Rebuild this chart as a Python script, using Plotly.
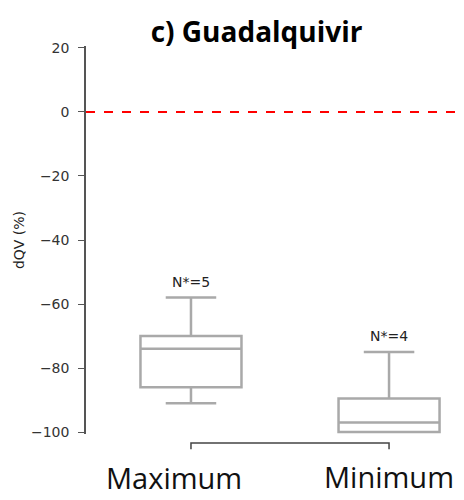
import plotly.graph_objects as go

categories = ["Maximum", "Minimum"]
q1 = [-86, -100]
median = [-74, -97]
q3 = [-70, -89.5]
lower = [-91, -100]
upper = [-58, -75]
n_labels = ["N*=5", "N*=4"]
title = "c) Guadalquivir"
y_ticks = [20, 0, -20, -40, -60, -80, -100]

fig = go.Figure()
for i, c in enumerate(categories):
    fig.add_trace(go.Box(
        x=[i], q1=[q1[i]], median=[median[i]], q3=[q3[i]],
        lowerfence=[lower[i]], upperfence=[upper[i]],
        width=0.51, whiskerwidth=0.5,
        line=dict(color="#a9a9a9", width=2.5),
        fillcolor="rgba(255,255,255,0)", showlegend=False,
        hoverinfo="skip"))
    fig.add_annotation(x=i, y=upper[i], text=n_labels[i], showarrow=False,
                       yshift=16, font=dict(size=14, color="#222", family="DejaVu Sans"))

# category labels
label_dx = [-0.085, 0.0]
label_y = [-0.113, -0.11]
for i, c in enumerate(categories):
    fig.add_annotation(x=i + label_dx[i], y=label_y[i], yref="paper", text=c,
                       showarrow=False, yanchor="middle",
                       font=dict(size=29, color="#111", family="Open Sans"))

fig.add_shape(type="line", xref="paper", yref="y", x0=0, x1=1, y0=0, y1=0,
              line=dict(color="red", width=2, dash="dash"))
fig.add_shape(type="path", xref="x", yref="paper",
              path="M 0 -0.039 L 0 -0.023 L 1 -0.023 L 1 -0.039",
              line=dict(color="#444", width=1.5))

fig.update_layout(
    width=464, height=500,
    margin=dict(l=86, r=9, t=46, b=66),
    plot_bgcolor="white", paper_bgcolor="white",
    title=dict(text="<b>" + title + "</b>", x=0.553, xanchor="center", y=0.935,
               yanchor="middle", font=dict(size=28, color="black", family="Open Sans")),
    xaxis=dict(range=[-0.53, 1.333], showticklabels=False, showline=False,
               showgrid=False, zeroline=False, ticks=""),
    yaxis=dict(range=[-100.6, 20.6], tickvals=y_ticks,
               ticktext=[str(v).replace("-", "\u2212") for v in y_ticks],
               showline=True, linecolor="#555", linewidth=1.5, ticks="outside",
               ticklen=6, tickcolor="#555", showgrid=False, zeroline=False,
               ticklabelstandoff=6,
               tickfont=dict(size=14, color="#333", family="DejaVu Sans"),
               title=dict(text="dQV (%)", font=dict(size=14, color="#222", family="DejaVu Sans"),
                          standoff=3)),
)
fig.write_html("out.html")
